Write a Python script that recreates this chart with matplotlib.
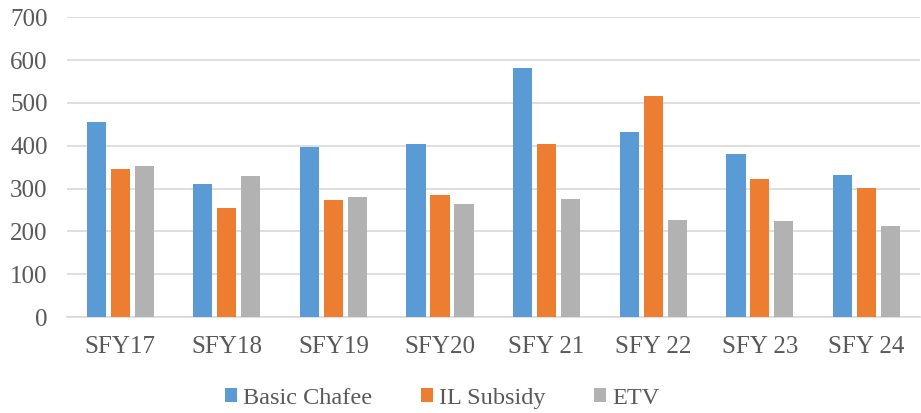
import matplotlib.pyplot as plt
import numpy as np

years = ["SFY17", "SFY18", "SFY19", "SFY20", "SFY 21", "SFY 22", "SFY 23", "SFY 24"]
basic_chafee = [456, 310, 396, 403, 582, 432, 380, 332]
il_subsidy = [346, 255, 274, 284, 403, 516, 323, 302]
etv = [352, 329, 280, 264, 275, 226, 224, 213]

series = ["Basic Chafee", "IL Subsidy", "ETV"]
colors = ["#5B9BD5", "#ED7D31", "#B2B2B2"]
text_color = "#595959"

plt.rcParams['font.family'] = ['Liberation Serif', 'DejaVu Serif']

fig = plt.figure(figsize=(9.21, 4.13), dpi=100)
ax = fig.add_axes([0.0727, 0.2324, 0.926, 0.7256])

x = np.arange(len(years))
w = 0.18
step = 0.225
for i, (vals, name) in enumerate(zip([basic_chafee, il_subsidy, etv], series)):
    ax.bar(x + (i - 1) * step, vals, width=w, color=colors[i], label=name, zorder=3)

ax.set_xlim(-0.5, len(years) - 0.5)
ax.set_ylim(0, 700)
ax.set_yticks(range(0, 701, 100))
ax.set_xticks(x)
ax.set_xticklabels(years)
ax.grid(axis='y', color='#D9D9D9', linewidth=1.2, zorder=0)
for s in ['top', 'right', 'left']:
    ax.spines[s].set_visible(False)
ax.spines['bottom'].set_color('#D9D9D9')
ax.spines['bottom'].set_linewidth(1.2)
ax.tick_params(axis='both', length=0, labelsize=18, colors=text_color)
ax.tick_params(axis='x', pad=14)
ax.tick_params(axis='y', pad=14)

fig.legend(loc='center', bbox_to_anchor=(0.48, 0.035), ncol=3, frameon=False,
           prop={'family': 'Liberation Serif', 'size': 17.5}, labelcolor=text_color,
           handlelength=0.5, handleheight=0.5, handletextpad=0.25, columnspacing=2.0)

fig.savefig("out.png", dpi=100)
